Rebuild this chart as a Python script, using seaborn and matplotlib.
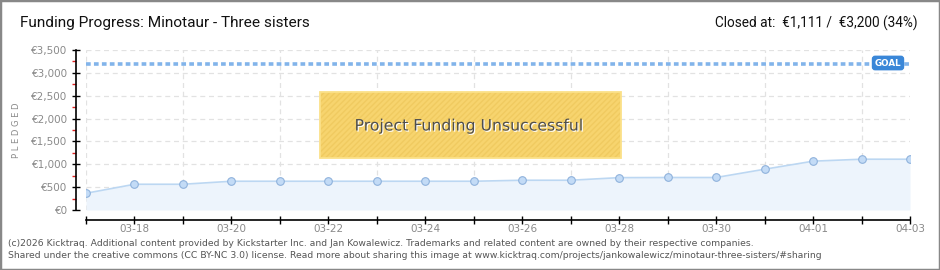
import matplotlib
matplotlib.use("Agg")
import matplotlib.pyplot as plt
import matplotlib.patches as mpatches
import matplotlib.patheffects as pe
from matplotlib.ticker import MultipleLocator, FuncFormatter, FixedLocator
import seaborn as sns
import pandas as pd

# ---- data ----
dates = ["03-17", "03-18", "03-19", "03-20", "03-21", "03-22", "03-23", "03-24", "03-25",
         "03-26", "03-27", "03-28", "03-29", "03-30", "03-31", "04-01", "04-02", "04-03"]
pledged = [366, 563, 563, 629, 629, 629, 629, 629, 629,
           651, 651, 708, 711, 711, 892, 1068, 1111, 1111]
goal = 3200
title = "Funding Progress: Minotaur - Three sisters"
closed_text = "Closed at:  €1,111 /  €3,200 (34%)"
status_text = "Project Funding Unsuccessful"
footer1 = ("(c)2026 Kicktraq. Additional content provided by Kickstarter Inc. and Jan Kowalewicz. "
           "Trademarks and related content are owned by their respective companies.")
footer2 = ("Shared under the creative commons (CC BY-NC 3.0) license. Read more about sharing this image at "
           "www.kicktraq.com/projects/jankowalewicz/minotaur-three-sisters/#sharing")

df = pd.DataFrame({"idx": range(len(dates)), "date": dates, "pledged": pledged})

sns.set_style("white")
plt.rcParams["font.family"] = ["DejaVu Sans"]
HEAD = ["Roboto", "DejaVu Sans"]

W, H = 940, 270
fig = plt.figure(figsize=(W / 100, H / 100), dpi=100)
fig.patch.set_facecolor("white")

ax = fig.add_axes([86 / W, 1 - 210 / H, (910 - 86) / W, (210 - 50) / H])
ax.set_facecolor("white")

# area + line
ax.fill_between(df["idx"], 0, df["pledged"], color="#edf4fc", zorder=1, linewidth=0)
sns.lineplot(data=df, x="idx", y="pledged", ax=ax, color="#bcd7f2", linewidth=1.2,
             marker="o", markersize=5.5, markerfacecolor="#c3dbf6",
             markeredgecolor="#8fb2dc", markeredgewidth=0.8, zorder=4)

# goal line
ax.axhline(goal, color="#82b4ea", linewidth=2.6, linestyle=(0, (1.3, 0.9)), zorder=3)

ax.set_xlim(0, len(dates) - 1)
ax.set_ylim(0, 3500)

# grid
ax.yaxis.set_major_locator(MultipleLocator(500))
ax.yaxis.set_minor_locator(MultipleLocator(250))
ax.xaxis.set_major_locator(FixedLocator(list(range(1, len(dates), 2))))
ax.xaxis.set_minor_locator(FixedLocator(list(range(0, len(dates)))))
ax.grid(True, which="major", axis="y", color="#e2e2e2", linestyle=(0, (4, 3)), linewidth=0.9)
ax.grid(True, which="minor", axis="x", color="#e2e2e2", linestyle=(0, (4, 3)), linewidth=0.9)
ax.set_axisbelow(True)

ax.yaxis.set_major_formatter(FuncFormatter(lambda v, p: f"€{int(v):,}"))
ax.xaxis.set_major_formatter(FuncFormatter(lambda v, p: dates[int(round(v))] if 0 <= int(round(v)) < len(dates) else ""))

for s in ["top", "right"]:
    ax.spines[s].set_visible(False)
ax.spines["left"].set_position(("outward", 7.2))
ax.spines["bottom"].set_position(("outward", 7.2))
ax.spines["left"].set_color("black")
ax.spines["bottom"].set_color("black")
ax.spines["left"].set_linewidth(1.2)
ax.spines["bottom"].set_linewidth(1.2)

ax.tick_params(axis="y", which="major", direction="inout", length=6, width=1, color="black",
               labelsize=7.5, labelcolor="#8a8a8a", pad=3, left=True)
ax.tick_params(axis="y", which="minor", direction="out", length=3, width=1, color="#e02020", left=True)
ax.tick_params(axis="x", which="major", direction="inout", length=6, width=1, color="black",
               labelsize=7.5, labelcolor="#8a8a8a", pad=0, bottom=True)
ax.tick_params(axis="x", which="minor", direction="inout", length=6, width=1, color="black", bottom=True)

ax.set_xlabel("")
ax.set_ylabel("P L E D G E D", fontsize=6, color="#8a8a8a")
ax.yaxis.set_label_coords((21 - 86) / 824, 0.5)

# GOAL label
fig.text(888 / W, 1 - 63 / H, "GOAL", fontsize=6.3, color="white", fontweight="bold",
         ha="center", va="center",
         bbox=dict(boxstyle="round,pad=0.25,rounding_size=0.3", fc="#3a87d8", ec="#3a87d8"))

# status box
rect = mpatches.Rectangle((320 / W, 1 - 158 / H), 301 / W, 66 / H, transform=fig.transFigure,
                          facecolor="#f7d46e", edgecolor="#f0ca60", linewidth=0, zorder=5,
                          hatch="//////")
fig.patches.append(rect)
rect_b = mpatches.Rectangle((320 / W, 1 - 158 / H), 301 / W, 66 / H, transform=fig.transFigure,
                            fill=False, edgecolor="#fbe189", linewidth=1.3, zorder=5)
fig.patches.append(rect_b)
fig.text(469 / W, 1 - 126 / H, status_text, fontsize=11.3, color="#4e4e4e", ha="center", va="center",
         zorder=6, path_effects=[pe.withSimplePatchShadow(offset=(0.8, -0.8), shadow_rgbFace="white", alpha=1)])

# header texts, sized to the reference widths
renderer = fig.canvas.get_renderer()


def fit_text(x, y, s, target_w, ha):
    t = fig.text(x, y, s, fontsize=12, color="#111111", ha=ha, va="center", family=HEAD)
    w = t.get_window_extent(renderer).width
    t.set_fontsize(12 * target_w / w)
    return t


fit_text(20 / W, 1 - 23 / H, title, 290, "left")
fit_text(918 / W, 1 - 23 / H, closed_text, 203, "right")

# footer
fig.text(8 / W, 1 - 243 / H, footer1, fontsize=6.7, color="#555555", ha="left", va="center")
fig.text(8 / W, 1 - 256 / H, footer2, fontsize=6.7, color="#555555", ha="left", va="center")

# border
border = mpatches.Rectangle((0, 0), 1, 1, transform=fig.transFigure, fill=False,
                            edgecolor="#888888", linewidth=2.5)
fig.patches.append(border)

fig.savefig("out.png", dpi=100, facecolor="white")
